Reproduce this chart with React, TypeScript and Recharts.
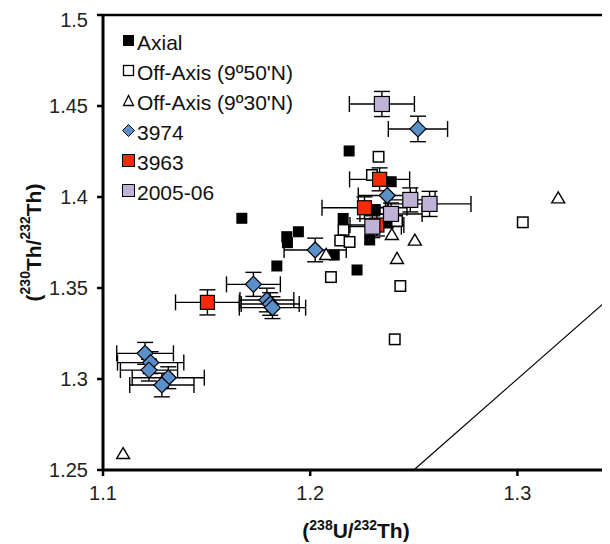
import React from "react";
import {
  ScatterChart,
  Scatter,
  XAxis,
  YAxis,
  ErrorBar,
  ReferenceLine,
  Legend,
  Label,
} from "recharts";

// (238U/232Th) vs (230Th/232Th)
const axialX = [1.167, 1.1887, 1.1943, 1.189, 1.1839, 1.2188, 1.2226, 1.2116, 1.2159, 1.2287, 1.2314, 1.2391, 1.2377];
const axialY = [1.3883, 1.3782, 1.3809, 1.3749, 1.3621, 1.4253, 1.3599, 1.3681, 1.3882, 1.3764, 1.3931, 1.4084, 1.3857];

const off50X = [1.233, 1.2298, 1.2161, 1.2145, 1.219, 1.21, 1.2419, 1.2435, 1.2408, 1.3026];
const off50Y = [1.4221, 1.4121, 1.3819, 1.3761, 1.3753, 1.356, 1.3868, 1.3511, 1.3218, 1.3861];

const off30X = [1.1097, 1.2077, 1.2394, 1.2505, 1.2419, 1.3197];
const off30Y = [1.2593, 1.3687, 1.3797, 1.3766, 1.3665, 1.3998];

const s3974X = [1.252, 1.2372, 1.2024, 1.1726, 1.1791, 1.1807, 1.1818, 1.1203, 1.123, 1.1222, 1.1315, 1.1284];
const s3974Y = [1.4374, 1.4008, 1.3709, 1.352, 1.3434, 1.3412, 1.3392, 1.3141, 1.309, 1.3049, 1.3007, 1.2967];
const s3974Ex = [0.0143, 0.014, 0.015, 0.013, 0.013, 0.014, 0.016, 0.0137, 0.016, 0.0138, 0.0174, 0.0155];
const s3974Ey = [0.007, 0.0065, 0.0065, 0.0066, 0.0065, 0.0062, 0.006, 0.006, 0.006, 0.006, 0.006, 0.0065];

const s3963X = [1.2335, 1.2262, 1.2322, 1.1504];
const s3963Y = [1.4097, 1.3941, 1.3846, 1.3421];
const s3963Ex = [0.0145, 0.0205, 0.013, 0.0154];
const s3963Ey = [0.0063, 0.006, 0.006, 0.0069];

const s2005X = [1.2346, 1.2483, 1.2576, 1.239, 1.23];
const s2005Y = [1.4511, 1.3984, 1.3962, 1.3907, 1.3837];
const s2005Ex = [0.0157, 0.012, 0.02, 0.015, 0.014];
const s2005Ey = [0.0069, 0.0066, 0.0069, 0.006, 0.006];

const xTicks = [1.1, 1.2, 1.3];
const yTicks = [1.25, 1.3, 1.35, 1.4, 1.45, 1.5];
const equiline = [1.25, 1.35];

const FONT = "'Liberation Sans', Arial, Helvetica, sans-serif";
const BLUE = "#5b8fca";
const RED = "#f72a08";
const LAV = "#c0b2d6";

const pts = (xs: number[], ys: number[], ex?: number[], ey?: number[]) =>
  xs.map((x, i) => ({ x, y: ys[i], ex: ex ? ex[i] : 0, ey: ey ? ey[i] : 0 }));

const square = (size: number, fill: string, stroke?: string, sw = 1.3) => (p: any) => (
  <rect
    x={p.cx - size / 2}
    y={p.cy - size / 2}
    width={size}
    height={size}
    fill={fill}
    stroke={stroke || "none"}
    strokeWidth={sw}
  />
);

const triangle = (w: number, h: number) => (p: any) => (
  <path
    d={`M${p.cx},${p.cy - h / 2} L${p.cx + w / 2},${p.cy + h / 2} L${p.cx - w / 2},${p.cy + h / 2} Z`}
    fill="#fff"
    stroke="#000"
    strokeWidth={1.4}
  />
);

const diamond = (s: number) => (p: any) => (
  <path
    d={`M${p.cx},${p.cy - s / 2} L${p.cx + s / 2},${p.cy} L${p.cx},${p.cy + s / 2} L${p.cx - s / 2},${p.cy} Z`}
    fill={BLUE}
    stroke="#000"
    strokeWidth={1.2}
  />
);

const legendItems = [
  { name: "Axial", icon: <rect x={1} y={1} width={11} height={11} fill="#000" /> },
  { name: "Off-Axis (9º50'N)", icon: <rect x={1.5} y={1.5} width={10} height={10} fill="#fff" stroke="#000" strokeWidth={1.3} /> },
  { name: "Off-Axis (9º30'N)", icon: <path d="M6.5,1.5 L11.5,11.5 L1.5,11.5 Z" fill="#fff" stroke="#000" strokeWidth={1.3} /> },
  { name: "3974", icon: <path d="M6.5,0.5 L12.5,6.5 L6.5,12.5 L0.5,6.5 Z" fill={BLUE} stroke="#000" strokeWidth={1} /> },
  { name: "3963", icon: <rect x={0.5} y={0.5} width={12} height={12} fill={RED} stroke="#000" strokeWidth={1} /> },
  { name: "2005-06", icon: <rect x={0.5} y={0.5} width={12} height={12} fill={LAV} stroke="#000" strokeWidth={1} /> },
];

const renderLegend = () => (
  <div style={{ fontFamily: FONT, fontSize: 21, color: "#111" }}>
    {legendItems.map((it) => (
      <div key={it.name} style={{ display: "flex", alignItems: "center", height: 30 }}>
        <svg width={14} height={13} style={{ marginRight: 1, marginTop: -5 }}>
          {it.icon}
        </svg>
        <span>{it.name}</span>
      </div>
    ))}
  </div>
);

const XTitle = (props: any) => {
  const vb = props.viewBox;
  const cx = vb.x + 253;
  const y = vb.y + 68;
  return (
    <text x={cx} y={y} textAnchor="middle" fontFamily={FONT} fontWeight="bold" fontSize={21} fill="#111">
      <tspan>(</tspan>
      <tspan fontSize={14} dy={-8}>238</tspan>
      <tspan dy={8}>U/</tspan>
      <tspan fontSize={14} dy={-8}>232</tspan>
      <tspan dy={8}>Th)</tspan>
    </text>
  );
};

const YTitle = (props: any) => {
  const vb = props.viewBox;
  const x = 25;
  const y = vb.y + vb.height / 2;
  return (
    <text
      x={x}
      y={y}
      transform={`rotate(-90, ${x}, ${y})`}
      textAnchor="middle"
      dominantBaseline="central"
      fontFamily={FONT}
      fontWeight="bold"
      fontSize={21}
      fill="#111"
    >
      <tspan>(</tspan>
      <tspan fontSize={14} dy={-8}>230</tspan>
      <tspan dy={8}>Th/</tspan>
      <tspan fontSize={14} dy={-8}>232</tspan>
      <tspan dy={8}>Th)</tspan>
    </text>
  );
};

export default function App() {
  const tickStyle = { fontFamily: FONT, fontSize: 20, fill: "#222" };
  return (
    <div style={{ position: "relative", width: 602, height: 536, overflow: "hidden" }}>
      <ScatterChart width={620} height={536} margin={{ top: 7, right: 7, bottom: 0, left: 0 }}>
        <XAxis
          type="number"
          dataKey="x"
          domain={[1.1, 1.35]}
          ticks={xTicks}
          allowDataOverflow
          axisLine={{ stroke: "#000", strokeWidth: 3 }}
          tickLine={{ stroke: "#000", strokeWidth: 2.5 }}
          tickSize={6}
          tick={tickStyle}
          tickMargin={10}
          height={74}
        >
          <Label content={XTitle} />
        </XAxis>
        <YAxis
          type="number"
          dataKey="y"
          domain={[1.25, 1.5]}
          ticks={yTicks}
          allowDataOverflow
          axisLine={{ stroke: "#000", strokeWidth: 3 }}
          tickLine={{ stroke: "#000", strokeWidth: 2.5 }}
          tickSize={6}
          tick={tickStyle}
          tickMargin={9}
          width={95}
        >
          <Label content={YTitle} />
        </YAxis>
        <ReferenceLine y={1.5} stroke="#000" strokeWidth={2.5} />
        <ReferenceLine
          segment={[
            { x: equiline[0], y: equiline[0] },
            { x: equiline[1], y: equiline[1] },
          ]}
          stroke="#000"
          strokeWidth={1.2}
        />
        <Legend
          layout="vertical"
          verticalAlign="middle"
          align="center"
          content={renderLegend}
          wrapperStyle={{ top: 20, left: 114, width: 260 }}
        />
        <Scatter name="Axial" data={pts(axialX, axialY)} shape={square(11, "#000")} isAnimationActive={false} />
        <Scatter name="Off-Axis (9º50'N)" data={pts(off50X, off50Y)} shape={square(10.5, "#fff", "#000", 1.5)} isAnimationActive={false} />
        <Scatter name="Off-Axis (9º30'N)" data={pts(off30X, off30Y)} shape={triangle(13, 11)} isAnimationActive={false} />
        <Scatter name="3974" data={pts(s3974X, s3974Y, s3974Ex, s3974Ey)} shape={diamond(16)} isAnimationActive={false}>
          <ErrorBar dataKey="ex" direction="x" width={8} stroke="#000" strokeWidth={1.4} />
          <ErrorBar dataKey="ey" direction="y" width={8} stroke="#000" strokeWidth={1.4} />
        </Scatter>
        <Scatter name="3963" data={pts(s3963X, s3963Y, s3963Ex, s3963Ey)} shape={square(14, RED, "#000", 1.2)} isAnimationActive={false}>
          <ErrorBar dataKey="ex" direction="x" width={8} stroke="#000" strokeWidth={1.4} />
          <ErrorBar dataKey="ey" direction="y" width={8} stroke="#000" strokeWidth={1.4} />
        </Scatter>
        <Scatter name="2005-06" data={pts(s2005X, s2005Y, s2005Ex, s2005Ey)} shape={square(15, LAV, "#000", 1.2)} isAnimationActive={false}>
          <ErrorBar dataKey="ex" direction="x" width={8} stroke="#000" strokeWidth={1.4} />
          <ErrorBar dataKey="ey" direction="y" width={8} stroke="#000" strokeWidth={1.4} />
        </Scatter>
      </ScatterChart>
    </div>
  );
}
